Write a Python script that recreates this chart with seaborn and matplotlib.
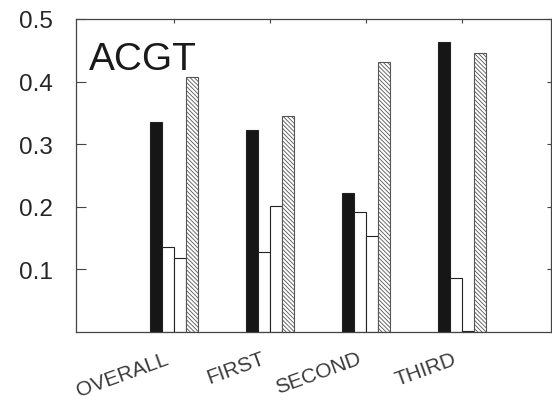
import pandas as pd
import seaborn as sns
import matplotlib
matplotlib.use("Agg")
import matplotlib.pyplot as plt
from matplotlib.transforms import ScaledTranslation

# values
positions = ["OVERALL", "FIRST", "SECOND", "THIRD"]
bases = ["A", "C", "G", "T"]
freq_A = [0.336, 0.322, 0.222, 0.464]
freq_C = [0.135, 0.127, 0.191, 0.086]
freq_G = [0.119, 0.201, 0.154, 0.002]
freq_T = [0.407, 0.345, 0.432, 0.445]
y_ticks = [0.1, 0.2, 0.3, 0.4, 0.5]

rows = []
for b, vals in zip(bases, [freq_A, freq_C, freq_G, freq_T]):
    for p, v in zip(positions, vals):
        rows.append({"position": p, "base": b, "freq": v})
df = pd.DataFrame(rows)

sns.set_theme(style="white")
plt.rcParams["font.family"] = ["Liberation Sans", "DejaVu Sans"]
plt.rcParams["hatch.linewidth"] = 0.6

fig = plt.figure(figsize=(5.52, 4.02), dpi=100)
ax = fig.add_axes([76 / 552, 1 - 333 / 402, 475 / 552, 313 / 402])

sns.barplot(data=df, x="position", y="freq", hue="base",
            order=positions, hue_order=bases,
            palette=["#161616", "white", "white", "white"],
            width=0.5, gap=0, edgecolor="#222222", linewidth=0.8,
            legend=False, ax=ax)

# hatched fourth series
for bar in ax.containers[3]:
    bar.set_hatch("\\" * 8)
    bar.set_edgecolor("#555555")

ax.set_xlim(-1.02, 3.93)
ax.set_ylim(0, 0.5)
ax.set_yticks(y_ticks)
ax.set_yticklabels([f"{t:.1f}" for t in y_ticks])
ax.set_xlabel("")
ax.set_ylabel("")

for s in ax.spines.values():
    s.set_visible(True)
    s.set_color("#444444")
    s.set_linewidth(0.9)

ax.tick_params(axis="y", left=True, right=True, direction="in", length=7,
               width=0.8, color="#444444", labelsize=17.5, pad=17)
for t in ax.yaxis.get_major_ticks():
    t.tick2line.set_markersize(3)
ax.tick_params(axis="x", bottom=False, top=True, direction="in", length=3,
               width=0.8, color="#444444", labelsize=15, pad=12)
shift = ScaledTranslation(-9 / 100, 0, fig.dpi_scale_trans)
for lab in ax.get_xticklabels():
    lab.set_rotation(20)
    lab.set_ha("right")
    lab.set_rotation_mode("anchor")
    lab.set_color("#3a3a3a")
    lab.set_transform(lab.get_transform() + shift)

ax.text(0.027, 0.84, "ACGT", transform=ax.transAxes, fontsize=28,
        ha="left", va="baseline", color="#1a1a1a")

fig.savefig("out.png", dpi=100)
